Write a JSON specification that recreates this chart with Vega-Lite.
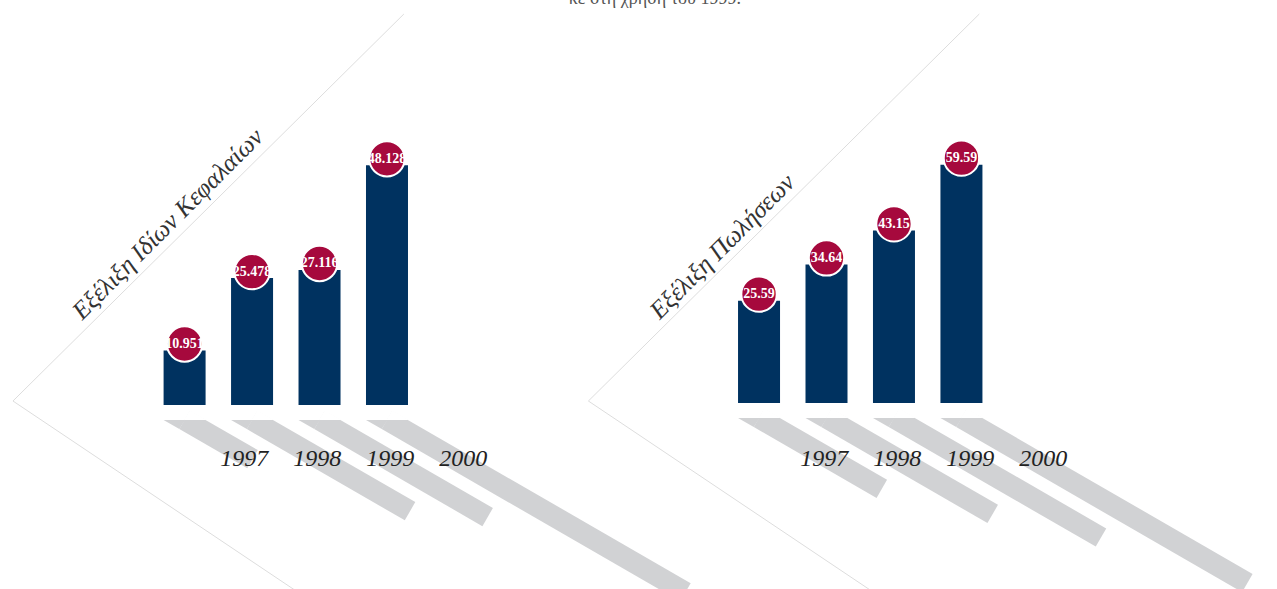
{
  "$schema": "https://vega.github.io/schema/vega-lite/v6.json",
  "width": 1277,
  "height": 589,
  "padding": 0,
  "autosize": {"type": "none"},
  "background": "white",
  "config": {"view": {"stroke": null}},
  "datasets": {
    "left": [
      {"year": 1997, "value": 10.951},
      {"year": 1998, "value": 25.478},
      {"year": 1999, "value": 27.116},
      {"year": 2000, "value": 48.128}
    ],
    "right": [
      {"year": 1997, "value": 25.59},
      {"year": 1998, "value": 34.64},
      {"year": 1999, "value": 43.15},
      {"year": 2000, "value": 59.59}
    ],
    "leftLine": [
      {"i": 0, "lx": 2000.25, "ly": 78.51},
      {"i": 1, "lx": 1994.456, "ly": 0.8},
      {"i": 2, "lx": 1998.632, "ly": -37.15}
    ],
    "rightLine": [
      {"i": 0, "lx": 2000.265, "ly": 97.25},
      {"i": 1, "lx": 1994.471, "ly": 0.5},
      {"i": 2, "lx": 1998.647, "ly": -46.75}
    ]
  },
  "layer": [
    {
      "data": {"name": "left"},
      "layer": [
        {
          "data": {"name": "leftLine"},
          "mark": {"type": "line", "color": "#dddddd", "strokeWidth": 1},
          "encoding": {
            "x": {"field": "lx", "type": "quantitative", "axis": null, "scale": {"domain": [1994.338, 2013.118], "nice": false, "zero": false}},
            "y": {"field": "ly", "type": "quantitative", "axis": null, "scale": {"domain": [-36.948, 81.325], "nice": false, "zero": false}},
            "order": {"field": "i", "type": "quantitative"}
          }
        },
        {
          "mark": {"type": "point", "shape": "M0,0L2,0", "filled": false, "color": "#d1d2d4", "strokeWidth": 21, "strokeCap": "butt", "angle": 30, "opacity": 1, "yOffset": 15},
          "encoding": {
            "x": {"field": "year", "type": "quantitative", "axis": null, "scale": {"domain": [1994.338, 2013.118], "nice": false, "zero": false}},
            "y": {"datum": 0, "type": "quantitative", "axis": null, "scale": {"domain": [-36.948, 81.325], "nice": false, "zero": false}},
            "size": {"field": "value", "type": "quantitative", "legend": null, "scale": {"type": "pow", "exponent": 2, "domain": [0, 50], "range": [0, 128164]}}
          }
        },
        {
          "mark": {"type": "point", "shape": "M-21,0L0.6,0L-5.25,9.09Z", "filled": true, "color": "#d1d2d4", "size": 4, "strokeWidth": 0, "opacity": 1, "yOffset": 15},
          "encoding": {
            "x": {"field": "year", "type": "quantitative", "axis": null, "scale": {"domain": [1994.338, 2013.118], "nice": false, "zero": false}},
            "y": {"datum": 0, "type": "quantitative", "axis": null, "scale": {"domain": [-36.948, 81.325], "nice": false, "zero": false}}
          }
        },
        {
          "mark": {"type": "point", "shape": "M-0.6,0L21.8,0L5.25,-9.8Z", "filled": true, "color": "#ffffff", "size": 4, "strokeWidth": 0, "opacity": 1, "yOffset": 15},
          "encoding": {
            "x": {"field": "year", "type": "quantitative", "axis": null, "scale": {"domain": [1994.338, 2013.118], "nice": false, "zero": false}},
            "y": {"datum": 0, "type": "quantitative", "axis": null, "scale": {"domain": [-36.948, 81.325], "nice": false, "zero": false}}
          }
        },
        {
          "mark": {"type": "bar", "color": "#003260", "size": 42},
          "encoding": {
            "x": {"field": "year", "type": "quantitative", "axis": null, "scale": {"domain": [1994.338, 2013.118], "nice": false, "zero": false}},
            "y": {"field": "value", "type": "quantitative", "axis": null, "scale": {"domain": [-36.948, 81.325], "nice": false, "zero": false}},
            "y2": {"datum": 0}
          }
        },
        {
          "mark": {"type": "circle", "color": "#a6093d", "size": 1250, "stroke": "#ffffff", "strokeWidth": 2, "opacity": 1, "yOffset": -6.5},
          "encoding": {
            "x": {"field": "year", "type": "quantitative", "axis": null, "scale": {"domain": [1994.338, 2013.118], "nice": false, "zero": false}},
            "y": {"field": "value", "type": "quantitative", "axis": null, "scale": {"domain": [-36.948, 81.325], "nice": false, "zero": false}}
          }
        },
        {
          "mark": {"type": "text", "color": "#ffffff", "font": "Liberation Serif", "fontWeight": "bold", "fontSize": 14, "align": "center", "baseline": "middle", "yOffset": -6.5},
          "encoding": {
            "x": {"field": "year", "type": "quantitative", "axis": null, "scale": {"domain": [1994.338, 2013.118], "nice": false, "zero": false}},
            "y": {"field": "value", "type": "quantitative", "axis": null, "scale": {"domain": [-36.948, 81.325], "nice": false, "zero": false}},
            "text": {"field": "value", "type": "nominal"}
          }
        },
        {
          "data": {"values": [{"t": "Εξέλιξη Ιδίων Κεφαλαίων"}]},
          "mark": {"type": "text", "angle": -45, "font": "Liberation Serif", "fontStyle": "italic", "fontSize": 25, "color": "#333333", "align": "center", "baseline": "middle"},
          "encoding": {
            "x": {"datum": 1996.75, "type": "quantitative", "axis": null, "scale": {"domain": [1994.338, 2013.118], "nice": false, "zero": false}},
            "y": {"datum": 36.35, "type": "quantitative", "axis": null, "scale": {"domain": [-36.948, 81.325], "nice": false, "zero": false}},
            "text": {"field": "t", "type": "nominal"}
          }
        },
        {
          "data": {"values": [{"t": "κε στη χρήση του 1999."}]},
          "mark": {"type": "text", "font": "Liberation Serif", "fontSize": 18, "color": "#555555", "align": "center", "baseline": "alphabetic"},
          "encoding": {
            "x": {"datum": 2003.97, "type": "quantitative", "axis": null, "scale": {"domain": [1994.338, 2013.118], "nice": false, "zero": false}},
            "y": {"datum": 80.52, "type": "quantitative", "axis": null, "scale": {"domain": [-36.948, 81.325], "nice": false, "zero": false}},
            "text": {"field": "t", "type": "nominal"}
          }
        }
      ]
    },
    {
      "data": {"name": "left"},
      "mark": {"type": "text", "font": "Liberation Serif", "fontStyle": "italic", "fontSize": 24, "color": "#222222", "align": "center", "baseline": "alphabetic", "yOffset": 61},
      "encoding": {
        "x": {"field": "year", "type": "quantitative", "axis": null, "scale": {"domain": [1993.655, 2011.148], "nice": false, "zero": false}},
        "y": {"datum": 0, "type": "quantitative", "axis": null, "scale": {"domain": [-36.948, 81.325], "nice": false, "zero": false}},
        "text": {"field": "year", "type": "nominal"}
      }
    },
    {
      "data": {"name": "right"},
      "layer": [
        {
          "data": {"name": "rightLine"},
          "mark": {"type": "line", "color": "#dddddd", "strokeWidth": 1},
          "encoding": {
            "x": {"field": "lx", "type": "quantitative", "axis": null, "scale": {"domain": [1985.824, 2004.603], "nice": false, "zero": false}},
            "y": {"field": "ly", "type": "quantitative", "axis": null, "scale": {"domain": [-46.5, 100.75], "nice": false, "zero": false}},
            "order": {"field": "i", "type": "quantitative"}
          }
        },
        {
          "mark": {"type": "point", "shape": "M0,0L2,0", "filled": false, "color": "#d1d2d4", "strokeWidth": 21, "strokeCap": "butt", "angle": 30, "opacity": 1, "yOffset": 15},
          "encoding": {
            "x": {"field": "year", "type": "quantitative", "axis": null, "scale": {"domain": [1985.824, 2004.603], "nice": false, "zero": false}},
            "y": {"datum": 0, "type": "quantitative", "axis": null, "scale": {"domain": [-46.5, 100.75], "nice": false, "zero": false}},
            "size": {"field": "value", "type": "quantitative", "legend": null, "scale": {"type": "pow", "exponent": 2, "domain": [0, 60], "range": [0, 110490]}}
          }
        },
        {
          "mark": {"type": "point", "shape": "M-21,0L0.6,0L-5.25,9.09Z", "filled": true, "color": "#d1d2d4", "size": 4, "strokeWidth": 0, "opacity": 1, "yOffset": 15},
          "encoding": {
            "x": {"field": "year", "type": "quantitative", "axis": null, "scale": {"domain": [1985.824, 2004.603], "nice": false, "zero": false}},
            "y": {"datum": 0, "type": "quantitative", "axis": null, "scale": {"domain": [-46.5, 100.75], "nice": false, "zero": false}}
          }
        },
        {
          "mark": {"type": "point", "shape": "M-0.6,0L21.8,0L5.25,-9.8Z", "filled": true, "color": "#ffffff", "size": 4, "strokeWidth": 0, "opacity": 1, "yOffset": 15},
          "encoding": {
            "x": {"field": "year", "type": "quantitative", "axis": null, "scale": {"domain": [1985.824, 2004.603], "nice": false, "zero": false}},
            "y": {"datum": 0, "type": "quantitative", "axis": null, "scale": {"domain": [-46.5, 100.75], "nice": false, "zero": false}}
          }
        },
        {
          "mark": {"type": "bar", "color": "#003260", "size": 42},
          "encoding": {
            "x": {"field": "year", "type": "quantitative", "axis": null, "scale": {"domain": [1985.824, 2004.603], "nice": false, "zero": false}},
            "y": {"field": "value", "type": "quantitative", "axis": null, "scale": {"domain": [-46.5, 100.75], "nice": false, "zero": false}},
            "y2": {"datum": 0}
          }
        },
        {
          "mark": {"type": "circle", "color": "#a6093d", "size": 1250, "stroke": "#ffffff", "strokeWidth": 2, "opacity": 1, "yOffset": -6.5},
          "encoding": {
            "x": {"field": "year", "type": "quantitative", "axis": null, "scale": {"domain": [1985.824, 2004.603], "nice": false, "zero": false}},
            "y": {"field": "value", "type": "quantitative", "axis": null, "scale": {"domain": [-46.5, 100.75], "nice": false, "zero": false}}
          }
        },
        {
          "mark": {"type": "text", "color": "#ffffff", "font": "Liberation Serif", "fontWeight": "bold", "fontSize": 14, "align": "center", "baseline": "middle", "yOffset": -6.5},
          "encoding": {
            "x": {"field": "year", "type": "quantitative", "axis": null, "scale": {"domain": [1985.824, 2004.603], "nice": false, "zero": false}},
            "y": {"field": "value", "type": "quantitative", "axis": null, "scale": {"domain": [-46.5, 100.75], "nice": false, "zero": false}},
            "text": {"field": "value", "type": "nominal"}
          }
        },
        {
          "data": {"values": [{"t": "Εξέλιξη Πωλήσεων"}]},
          "mark": {"type": "text", "angle": -45, "font": "Liberation Serif", "fontStyle": "italic", "fontSize": 25, "color": "#333333", "align": "center", "baseline": "middle"},
          "encoding": {
            "x": {"datum": 1996.456, "type": "quantitative", "axis": null, "scale": {"domain": [1985.824, 2004.603], "nice": false, "zero": false}},
            "y": {"datum": 39.125, "type": "quantitative", "axis": null, "scale": {"domain": [-46.5, 100.75], "nice": false, "zero": false}},
            "text": {"field": "t", "type": "nominal"}
          }
        }
      ]
    },
    {
      "data": {"name": "right"},
      "mark": {"type": "text", "font": "Liberation Serif", "fontStyle": "italic", "fontSize": 24, "color": "#222222", "align": "center", "baseline": "alphabetic", "yOffset": 63},
      "encoding": {
        "x": {"field": "year", "type": "quantitative", "axis": null, "scale": {"domain": [1985.71, 2003.203], "nice": false, "zero": false}},
        "y": {"datum": 0, "type": "quantitative", "axis": null, "scale": {"domain": [-46.5, 100.75], "nice": false, "zero": false}},
        "text": {"field": "year", "type": "nominal"}
      }
    }
  ],
  "resolve": {"scale": {"x": "independent", "y": "independent", "size": "independent"}}
}
